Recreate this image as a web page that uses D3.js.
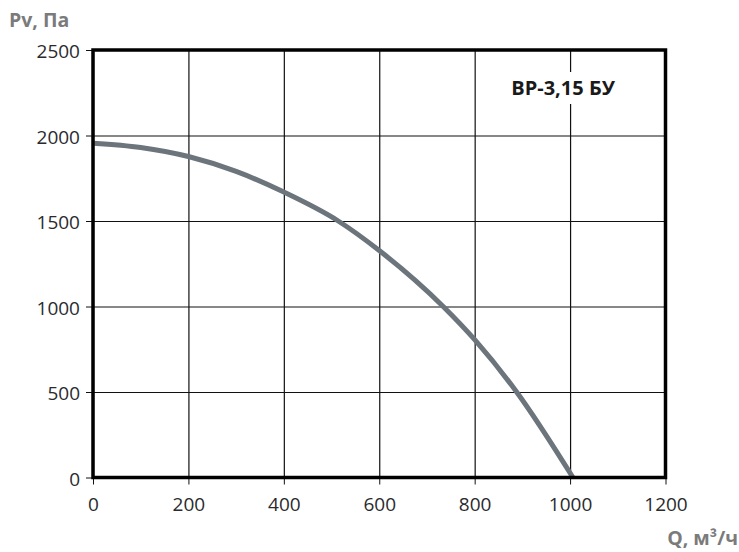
<html>
  <head>
    <meta charset="utf-8">
    <title>ВР-3,15 БУ</title>
    <script src="https://d3js.org/d3.v7.min.js"></script>
    <style>
      body { margin: 0; background: #fff; }
      text { font-family: "Open Sans", "Noto Sans", Arial, sans-serif; }
    </style>
  </head>
  <body>
    <svg id="chart" width="739" height="552"></svg>
    <script>

    // curve: flow Q (m3/h) vs pressure Pv (Pa)
    const flowQ = [0, 100, 200, 300, 400, 514, 602, 734, 800, 888, 1006];
    const pressurePv = [1955, 1930, 1877, 1790, 1669, 1500, 1323, 1000, 806, 500, 0];
    const xTicks = [0, 200, 400, 600, 800, 1000, 1200];
    const yTicks = [0, 500, 1000, 1500, 2000, 2500];
    const curveLabel = "ВР-3,15 БУ";

    const svg = d3.select("svg#chart");
    const margins = {"top":50, "left":93, "right":73.5, "bottom":74.5};
    const chartWidth = svg.attr("width") - margins.left - margins.right;
    const chartHeight = svg.attr("height") - margins.top - margins.bottom;

    const xScale = d3.scaleLinear().domain([0, 1200]).range([0, chartWidth]);
    const yScale = d3.scaleLinear().domain([0, 2500]).range([chartHeight, 0]);

    let plot = svg.append("g")
                  .attr("transform","translate("+margins.left+","+margins.top+")");

    //gridlines
    plot.append("g")
        .attr("class","x gridlines")
        .attr("transform","translate(0,"+chartHeight+")")
        .call(d3.axisBottom(xScale).tickValues(xTicks).tickSize(-chartHeight).tickFormat(""))
        .call(g => g.select(".domain").remove())
        .selectAll("line").attr("stroke","#111").attr("stroke-width",1.2);

    plot.append("g")
        .attr("class","y gridlines")
        .call(d3.axisLeft(yScale).tickValues(yTicks).tickSize(-chartWidth).tickFormat(""))
        .call(g => g.select(".domain").remove())
        .selectAll("line").attr("stroke","#111").attr("stroke-width",1.2);

    //axes with outward ticks
    let bottomAxis = plot.append("g")
        .attr("class","x axis")
        .attr("transform","translate(0,"+chartHeight+")")
        .call(d3.axisBottom(xScale).tickValues(xTicks).tickSize(7).tickPadding(13).tickFormat(d3.format("d")));
    bottomAxis.select(".domain").remove();
    bottomAxis.selectAll("line").attr("stroke","#111");
    bottomAxis.selectAll("text").attr("font-size","19px").attr("fill","#2a2a2e");

    let leftAxis = plot.append("g")
        .attr("class","y axis")
        .call(d3.axisLeft(yScale).tickValues(yTicks).tickSize(7).tickPadding(6).tickFormat(d3.format("d")));
    leftAxis.select(".domain").remove();
    leftAxis.selectAll("line").attr("stroke","#111");
    leftAxis.selectAll("text").attr("font-size","19px").attr("fill","#2a2a2e").attr("dy","0.4em");

    //curve
    const lineGen = d3.line()
      .x((d, i) => xScale(flowQ[i]))
      .y((d, i) => yScale(pressurePv[i]))
      .curve(d3.curveMonotoneX);

    plot.append("path")
        .datum(pressurePv)
        .attr("fill","none")
        .attr("stroke","#6c747c")
        .attr("stroke-width",5)
        .attr("d", lineGen);

    //frame
    plot.append("rect")
        .attr("x",0).attr("y",0)
        .attr("width",chartWidth).attr("height",chartHeight)
        .attr("fill","none").attr("stroke","#000").attr("stroke-width",3.5);

    //curve label with white background
    let label = plot.append("g").attr("transform","translate("+(xScale(1000)-7)+","+(yScale(2500)+45)+")");
    label.append("rect")
         .attr("x",-64).attr("y",-23).attr("width",130).attr("height",32)
         .attr("fill","#fff");
    label.append("text")
         .attr("text-anchor","middle")
         .attr("font-size","20px").attr("font-weight","bold").attr("fill","#1a1a1a")
         .text(curveLabel);

    //axis titles
    svg.append("text")
       .attr("x",9).attr("y",27)
       .attr("font-size","19.5px").attr("font-weight","bold").attr("fill","#7b7b7b")
       .text("Pv, Па");

    svg.append("text")
       .attr("x",738).attr("y",545)
       .attr("text-anchor","end")
       .attr("font-size","19.5px").attr("font-weight","bold").attr("fill","#7b7b7b")
       .text("Q, м³/ч");

    </script>
  </body>
</html>
